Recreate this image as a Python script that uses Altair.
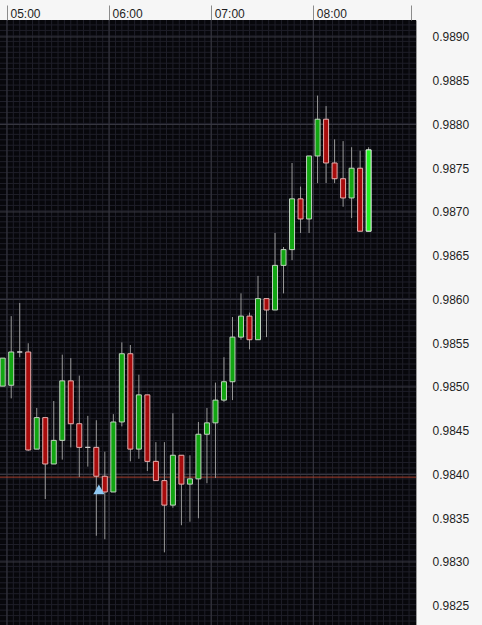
import altair as alt
import pandas as pd

# ---- data (5-minute candles) ----
open_times = [
    "04:55",
    "05:00", "05:05", "05:10", "05:15", "05:20", "05:25", "05:30", "05:35", "05:40", "05:45", "05:50", "05:55",
    "06:00", "06:05", "06:10", "06:15", "06:20", "06:25", "06:30", "06:35", "06:40", "06:45", "06:50", "06:55",
    "07:00", "07:05", "07:10", "07:15", "07:20", "07:25", "07:30", "07:35", "07:40", "07:45", "07:50", "07:55",
    "08:00", "08:05", "08:10", "08:15", "08:20", "08:25", "08:30",
]
opens = [
    0.98501,
    0.98502, 0.98540, 0.98540, 0.98429, 0.98465, 0.98412, 0.98439, 0.98507, 0.98458, 0.98431, 0.98431, 0.98398,
    0.98380, 0.98460, 0.98538, 0.98429, 0.98491, 0.98415, 0.98393, 0.98365, 0.98422, 0.98389, 0.98395, 0.98446,
    0.98459, 0.98485, 0.98506, 0.98557, 0.98581, 0.98554, 0.98601, 0.98588, 0.98639, 0.98657, 0.98715, 0.98692,
    0.98764, 0.98806, 0.98756, 0.98738, 0.98716, 0.98750, 0.98678,
]
highs = [
    0.98533,
    0.98581, 0.98596, 0.98550, 0.98476, 0.98465, 0.98484, 0.98537, 0.98533, 0.98513, 0.98467, 0.98462, 0.98426,
    0.98469, 0.98551, 0.98548, 0.98514, 0.98491, 0.98437, 0.98437, 0.98470, 0.98422, 0.98422, 0.98460, 0.98476,
    0.98505, 0.98534, 0.98580, 0.98607, 0.98585, 0.98627, 0.98601, 0.98676, 0.98660, 0.98756, 0.98729, 0.98764,
    0.98833, 0.98821, 0.98783, 0.98781, 0.98774, 0.98770, 0.98774,
]
lows = [
    0.98501,
    0.98487, 0.98534, 0.98427, 0.98429, 0.98372, 0.98412, 0.98417, 0.98431, 0.98397, 0.98409, 0.98330, 0.98326,
    0.98380, 0.98455, 0.98415, 0.98418, 0.98404, 0.98393, 0.98311, 0.98362, 0.98342, 0.98346, 0.98350, 0.98390,
    0.98396, 0.98483, 0.98485, 0.98554, 0.98543, 0.98554, 0.98557, 0.98588, 0.98607, 0.98645, 0.98676, 0.98676,
    0.98733, 0.98733, 0.98733, 0.98706, 0.98693, 0.98678, 0.98678,
]
closes = [
    0.98533,
    0.98540, 0.98540, 0.98428, 0.98465, 0.98412, 0.98439, 0.98507, 0.98458, 0.98431, 0.98431, 0.98398, 0.98380,
    0.98460, 0.98538, 0.98429, 0.98491, 0.98415, 0.98393, 0.98365, 0.98422, 0.98389, 0.98395, 0.98446, 0.98459,
    0.98485, 0.98506, 0.98557, 0.98581, 0.98554, 0.98601, 0.98588, 0.98639, 0.98657, 0.98715, 0.98692, 0.98764,
    0.98806, 0.98756, 0.98738, 0.98716, 0.98750, 0.98678, 0.98771,
]

level_prices = [0.98397]          # horizontal price line
marker_times = ["05:54"]          # blue triangle
marker_prices = [0.98383]

hour_ticks = [0, 60, 120, 180]
hour_labels = ["05:00", "06:00", "07:00", "08:00"]
price_ticks = [0.9825, 0.9830, 0.9835, 0.9840, 0.9845, 0.9850, 0.9855,
               0.9860, 0.9865, 0.9870, 0.9875, 0.9880, 0.9885, 0.9890]


def to_min(s):
    h, m = s.split(":")
    return (int(h) - 5) * 60 + int(m)


df = pd.DataFrame({"time": open_times, "open": opens, "high": highs,
                   "low": lows, "close": closes})
df["t"] = [to_min(s) + 2.5 for s in open_times]
kinds = []
for o, c in zip(opens, closes):
    kinds.append("up" if c > o else ("down" if c < o else "doji"))
kinds[-1] = "last"
df["kind"] = kinds

lvl = pd.DataFrame({"p": level_prices})
mk = pd.DataFrame({"t": [to_min(s) for s in marker_times], "p": marker_prices})
hours = pd.DataFrame({"m": hour_ticks})

X_DOMAIN = [-1.15, 237.39]
Y_DOMAIN = [0.98228, 0.989194]
xs = alt.Scale(domain=X_DOMAIN, nice=False, zero=False)
ys = alt.Scale(domain=Y_DOMAIN, nice=False, zero=False)

FONT = "Liberation Sans"
label_expr = "".join(f"datum.value == {v} ? '{l}' : " for v, l in zip(hour_ticks, hour_labels)) + "''"

x_axis = alt.Axis(orient="top", values=hour_ticks + [X_DOMAIN[1]], labelExpr=label_expr,
                  tickSize=15, tickColor="#8c8c8c", tickWidth=1, domain=False, grid=False,
                  labelAlign="left", labelBaseline="alphabetic", labelOffset=3,
                  labelPadding=-12, labelFlush=False, labelOverlap=False, title=None,
                  labelFont=FONT, labelFontSize=12, labelColor="#1e1e1e")
y_axis = alt.Axis(orient="right", values=price_ticks, format=".4f", labelAlign="left",
                  labelPadding=16, ticks=False, domain=True, domainColor="#9a9a9a",
                  grid=False, title=None, labelBaseline="middle", labelOverlap=False,
                  labelFlush=False, labelFont=FONT, labelFontSize=12, labelColor="#1e1e1e")

MINOR = "#1f1f29"
MAJOR = "#383841"

# axis-carrying layer (invisible, only holds the axes)
axes_layer = alt.Chart(df).mark_rule(opacity=0).encode(
    x=alt.X("t:Q", scale=xs, axis=x_axis),
    y=alt.Y("low:Q", scale=ys, axis=y_axis),
)

minor_v = alt.Chart(alt.sequence(0, 64, as_="k")).transform_calculate(
    m="datum.k * 3.75").mark_rule(color=MINOR, strokeWidth=1, clip=True).encode(
    x=alt.X("m:Q", scale=xs, axis=None))
minor_h = alt.Chart(alt.sequence(0, 114, as_="k")).transform_calculate(
    p="0.9822 + datum.k * 0.0000625").mark_rule(color=MINOR, strokeWidth=1, clip=True).encode(
    y=alt.Y("p:Q", scale=ys, axis=None))
major_v = alt.Chart(hours).mark_rule(color=MAJOR, strokeWidth=1, clip=True).encode(
    x=alt.X("m:Q", scale=xs, axis=None))
major_h = alt.Chart(alt.sequence(0, 8, as_="k")).transform_calculate(
    p="0.9820 + datum.k * 0.001").mark_rule(color=MAJOR, strokeWidth=1, clip=True).encode(
    y=alt.Y("p:Q", scale=ys, axis=None))

level = alt.Chart(lvl).mark_rule(color="#a5402f", strokeWidth=1, clip=True).encode(
    y=alt.Y("p:Q", scale=ys, axis=None))

wicks = alt.Chart(df).mark_rule(color="#9a9a9a", strokeWidth=1, clip=True).encode(
    x=alt.X("t:Q", scale=xs, axis=None),
    y=alt.Y("low:Q", scale=ys, axis=None),
    y2="high:Q",
)

kind_dom = ["up", "down", "doji", "last"]
bodies = alt.Chart(df).mark_bar(size=5, strokeWidth=1, clip=True).encode(
    x=alt.X("t:Q", scale=xs, axis=None),
    y=alt.Y("open:Q", scale=ys, axis=None),
    y2="close:Q",
    fill=alt.Color("kind:N", legend=None,
                   scale=alt.Scale(domain=kind_dom, range=["#12a612", "#a80c0c", "#c8c8c8", "#22f022"])),
    stroke=alt.Stroke("kind:N", legend=None,
                      scale=alt.Scale(domain=kind_dom, range=["#c0d2c0", "#e6b0b0", "#d0d0d0", "#f4f4f4"])),
)

marker = alt.Chart(mk).mark_point(shape="triangle-up", filled=True, size=125, opacity=1,
                                  color="#8fc8f2").encode(
    x=alt.X("t:Q", scale=xs, axis=None),
    y=alt.Y("p:Q", scale=ys, axis=None),
)

chart = alt.layer(axes_layer, minor_v, minor_h, major_v, major_h, level, wicks, bodies, marker).resolve_axis(
    x="independent", y="independent"
).properties(
    width=416, height=605, background="#f6f6f6",
    padding={"left": 0, "top": 20, "right": 66, "bottom": 0},
    autosize=alt.AutoSizeParams(type="none"),
).configure_view(fill="#07070b", strokeWidth=0)

chart.save("out.html", embed_options={"renderer": "svg", "actions": False})
